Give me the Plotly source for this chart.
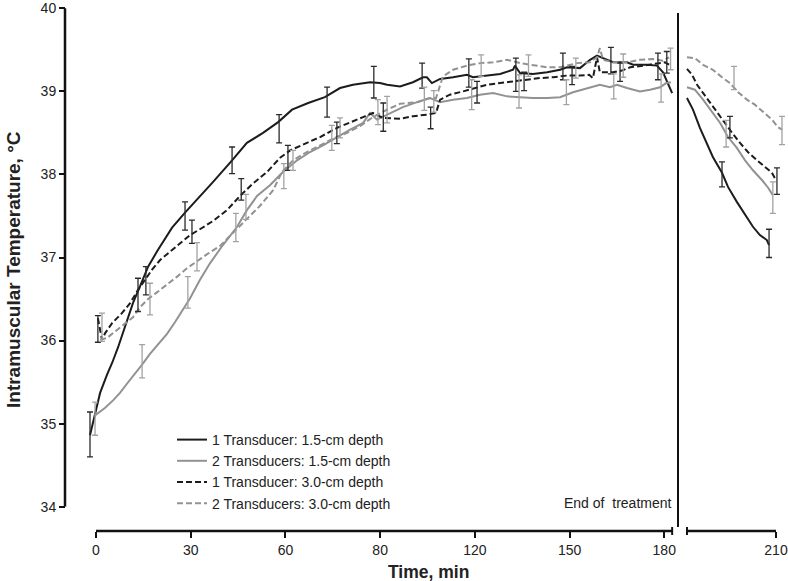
import plotly.graph_objects as go

# ---------------- data (time in min, temperature in °C) ----------------
# Treatment period (left panel)
s1_t = [-1.9, -0.3, 1.3, 3.5, 5.1, 7.0, 9.2, 11.7, 13.9, 16.5, 19.6, 24.1, 28.2, 32.9, 37.1, 43.1, 47.8, 52.9,
        57.7, 62.1, 67.2, 72.5, 77.3, 81.4, 86.8, 90.0, 92.2, 96.3, 100.4, 103.6, 104.8, 106.4, 109.0, 113.1,
        117.5, 119.4, 123.9, 128.0, 132.1, 132.7, 134.3, 138.4, 142.9, 147.0, 149.2, 153.3, 156.5, 158.7,
        160.6, 163.8, 168.2, 170.1, 174.5, 177.7, 179.6, 181.2, 182.5]
s1_T = [34.86, 35.13, 35.37, 35.59, 35.73, 35.92, 36.16, 36.45, 36.65, 36.89, 37.09, 37.36, 37.54, 37.73, 37.91,
        38.17, 38.38, 38.50, 38.63, 38.78, 38.86, 38.93, 39.04, 39.08, 39.11, 39.10, 39.08, 39.06, 39.11, 39.17,
        39.17, 39.10, 39.15, 39.17, 39.20, 39.17, 39.19, 39.21, 39.26, 39.31, 39.22, 39.21, 39.23, 39.26, 39.29,
        39.28, 39.38, 39.43, 39.40, 39.35, 39.35, 39.32, 39.32, 39.31, 39.23, 39.09, 38.98]

s2_t = [-0.3, 2.9, 5.4, 7.6, 9.8, 11.7, 14.6, 17.1, 19.6, 22.5, 25.0, 27.6, 29.8, 32.9, 36.1, 40.2, 44.7, 47.8,
        51.0, 55.1, 59.2, 63.7, 67.8, 71.9, 76.3, 80.5, 84.6, 86.8, 89.0, 93.1, 97.2, 101.7, 105.8, 109.0, 113.1,
        117.5, 121.6, 125.8, 130.2, 134.3, 138.4, 142.9, 147.0, 151.1, 155.5, 159.6, 162.8, 165.0, 168.2, 172.3,
        175.5, 178.7, 180.6, 182.1]
s2_T = [35.10, 35.19, 35.28, 35.37, 35.48, 35.57, 35.71, 35.84, 35.95, 36.08, 36.22, 36.37, 36.51, 36.73, 36.93,
        37.15, 37.37, 37.57, 37.74, 37.87, 38.03, 38.17, 38.27, 38.35, 38.45, 38.54, 38.62, 38.74, 38.66, 38.74,
        38.81, 38.87, 38.92, 38.87, 38.90, 38.92, 38.96, 38.98, 38.94, 38.93, 38.92, 38.92, 38.93, 38.99, 39.04,
        39.08, 39.05, 39.08, 39.04, 39.00, 39.02, 39.05, 39.10, 39.11]

s3_t = [0.6, 1.9, 2.9, 5.1, 8.2, 10.8, 13.3, 15.5, 17.7, 20.3, 23.4, 26.6, 29.8, 32.9, 37.1, 41.5, 45.6, 49.7,
        54.2, 58.3, 61.5, 66.8, 71.0, 76.3, 80.5, 84.6, 87.7, 90.9, 96.3, 100.4, 104.8, 107.7, 109.0, 112.1,
        116.3, 119.4, 123.9, 128.0, 132.1, 136.5, 140.6, 144.8, 149.2, 153.3, 156.2, 157.4, 158.7, 159.6, 163.8,
        166.6, 169.2, 173.3, 177.7, 180.2, 182.1]
s3_T = [36.27, 36.01, 36.09, 36.21, 36.33, 36.45, 36.61, 36.73, 36.85, 36.97, 37.07, 37.17, 37.27, 37.34, 37.44,
        37.57, 37.74, 37.89, 38.03, 38.20, 38.29, 38.38, 38.45, 38.56, 38.63, 38.69, 38.74, 38.68, 38.67, 38.70,
        38.72, 38.74, 38.90, 38.96, 39.00, 39.03, 39.08, 39.10, 39.12, 39.14, 39.16, 39.17, 39.19, 39.19, 39.20,
        39.16, 39.41, 39.23, 39.23, 39.25, 39.29, 39.31, 39.34, 39.35, 39.31]

s4_t = [1.3, 3.5, 5.4, 7.6, 9.8, 11.7, 13.9, 16.5, 19.3, 22.5, 25.7, 28.8, 32.0, 35.2, 39.3, 43.4, 47.8, 51.9,
        56.1, 58.9, 62.4, 66.8, 71.0, 75.1, 79.5, 83.6, 87.7, 92.2, 96.3, 101.7, 105.8, 107.7, 109.9, 113.1,
        117.5, 121.6, 125.8, 130.2, 134.3, 138.4, 142.9, 147.0, 152.4, 156.5, 158.7, 159.6, 160.6, 163.8, 168.2,
        172.3, 176.4, 179.6, 181.5]
s4_T = [36.01, 36.03, 36.09, 36.16, 36.22, 36.28, 36.40, 36.50, 36.58, 36.67, 36.77, 36.87, 36.96, 37.04, 37.14,
        37.30, 37.46, 37.62, 37.81, 38.03, 38.17, 38.27, 38.35, 38.43, 38.50, 38.58, 38.69, 38.78, 38.85, 38.87,
        38.92, 38.92, 39.18, 39.26, 39.31, 39.34, 39.35, 39.38, 39.34, 39.32, 39.29, 39.29, 39.34, 39.35, 39.41,
        39.52, 39.38, 39.35, 39.35, 39.38, 39.39, 39.37, 39.41]

# Error bars (mean ± SD) during treatment
e1_t = [-1.9, 13.3, 28.2, 43.1, 58.0, 73.2, 88.0, 103.3, 118.1, 133.0, 147.9, 163.1, 178.0]
e1_T = [34.87, 36.55, 37.50, 38.17, 38.55, 38.87, 39.11, 39.19, 39.22, 39.20, 39.30, 39.37, 39.30]
e1_e = [0.27, 0.20, 0.17, 0.16, 0.17, 0.18, 0.19, 0.15, 0.17, 0.20, 0.16, 0.16, 0.16]
e2_t = [-0.3, 14.6, 29.1, 44.3, 59.5, 74.7, 89.3, 104.0, 119.0, 134.0, 149.0, 164.0, 179.0]
e2_T = [35.06, 35.75, 36.58, 37.36, 37.98, 38.44, 38.75, 38.91, 38.96, 39.00, 38.99, 39.06, 39.04]
e2_e = [0.20, 0.20, 0.19, 0.17, 0.15, 0.15, 0.15, 0.14, 0.18, 0.20, 0.15, 0.15, 0.17]
e3_t = [0.6, 15.8, 30.4, 46.0, 60.8, 76.3, 91.0, 106.0, 120.7, 135.6, 150.8, 166.0, 180.8]
e3_T = [36.14, 36.72, 37.31, 37.82, 38.20, 38.50, 38.69, 38.68, 38.99, 39.12, 39.19, 39.23, 39.35]
e3_e = [0.16, 0.17, 0.14, 0.13, 0.15, 0.13, 0.17, 0.13, 0.13, 0.11, 0.11, 0.11, 0.13]
e4_t = [1.9, 17.1, 32.0, 47.5, 62.4, 77.3, 92.2, 107.0, 122.0, 137.0, 152.0, 167.0, 182.0]
e4_T = [36.16, 36.50, 37.01, 37.61, 38.17, 38.56, 38.78, 38.88, 39.31, 39.31, 39.28, 39.31, 39.39]
e4_e = [0.17, 0.19, 0.17, 0.15, 0.12, 0.12, 0.16, 0.13, 0.13, 0.13, 0.12, 0.14, 0.13]

# After treatment (right panel)
r1_t = [181.8, 183.7, 185.9, 188.1, 190.0, 192.9, 194.8, 197.6, 200.2, 202.7, 204.9, 207.1, 207.8]
r1_T = [38.92, 38.78, 38.56, 38.38, 38.21, 38.02, 37.85, 37.67, 37.51, 37.37, 37.27, 37.21, 37.15]
r2_t = [181.8, 184.3, 186.9, 189.7, 192.3, 194.8, 197.6, 200.2, 202.7, 205.6, 207.5, 209.0]
r2_T = [39.05, 39.02, 38.90, 38.75, 38.62, 38.45, 38.32, 38.17, 38.05, 37.93, 37.84, 37.75]
r3_t = [181.8, 183.4, 185.0, 186.9, 189.1, 191.3, 193.8, 196.1, 198.6, 201.1, 204.0, 206.5, 208.7, 210.0]
r3_T = [39.27, 39.20, 39.08, 38.98, 38.86, 38.74, 38.62, 38.50, 38.38, 38.27, 38.17, 38.09, 38.02, 37.93]
r4_t = [181.8, 184.3, 186.9, 190.0, 192.9, 195.4, 198.0, 200.8, 203.3, 205.9, 208.7, 210.6, 211.9]
r4_T = [39.41, 39.40, 39.32, 39.26, 39.17, 39.10, 38.99, 38.90, 38.84, 38.75, 38.66, 38.57, 38.54]

re1_t, re1_T, re1_e = [192.9, 207.8], [38.00, 37.17], [0.15, 0.17]
re2_t, re2_T, re2_e = [194.2, 209.0], [38.49, 37.72], [0.16, 0.19]
re3_t, re3_T, re3_e = [195.4, 210.3], [38.57, 37.92], [0.13, 0.16]
re4_t, re4_T, re4_e = [196.7, 211.9], [39.16, 38.53], [0.14, 0.17]

series_names = ["1 Transducer: 1.5-cm depth", "2 Transducers: 1.5-cm depth",
                "1 Transducer: 3.0-cm depth", "2 Transducers: 3.0-cm depth"]

x_tick_vals = [0, 30, 60, 90, 120, 150, 180]
x_tick_text = ["0", "30", "60", "80", "120", "150", "180"]
x2_tick_vals = [210]
x2_tick_text = ["210"]
y_tick_vals = [34, 35, 36, 37, 38, 39, 40]

left_axis_end = 182.5
right_axis_start = 181.8

# ---------------- styling ----------------
FONT = "Liberation Sans, Arial, Helvetica, sans-serif"
BLACK = "#1c1c1c"
GREY = "#929292"
BLACK_EB = "#2a2a2a"
GREY_EB = "#a2a2a2"
DASH = "6px,3px"

W, H = 788, 581
ML, MR, MT, MB = 65, 0, 4, 50
PW, PH = W - ML - MR, H - MT - MB
PX_PER_DEG = 83.07
Y_TOP_PX = 8.3           # pixel row of 40 °C
Y_BOT_PX = 506.7         # pixel row of 34 °C
split = (680 - ML) / PW


def px_x(px):
    return (px - ML) / PW


def px_y(py):
    return (MT + PH - py) / PH


y_range_top = 40 + (Y_TOP_PX - MT) / PX_PER_DEG

styles = [
    dict(color=BLACK, dash="solid", eb=BLACK_EB),
    dict(color=GREY, dash="solid", eb=GREY_EB),
    dict(color=BLACK, dash=DASH, eb=BLACK_EB),
    dict(color=GREY, dash=DASH, eb=GREY_EB),
]

lines_left = [(s1_t, s1_T), (s2_t, s2_T), (s3_t, s3_T), (s4_t, s4_T)]
lines_right = [(r1_t, r1_T), (r2_t, r2_T), (r3_t, r3_T), (r4_t, r4_T)]
bars_left = [(e1_t, e1_T, e1_e), (e2_t, e2_T, e2_e), (e3_t, e3_T, e3_e), (e4_t, e4_T, e4_e)]
bars_right = [(re1_t, re1_T, re1_e), (re2_t, re2_T, re2_e), (re3_t, re3_T, re3_e), (re4_t, re4_T, re4_e)]

fig = go.Figure()

for i, name in enumerate(series_names):
    st = styles[i]
    line = dict(color=st["color"], width=2, dash=st["dash"])
    fig.add_trace(go.Scatter(x=lines_left[i][0], y=lines_left[i][1], mode="lines", name=name,
                             legendgroup=name, line=line, xaxis="x", yaxis="y"))
    fig.add_trace(go.Scatter(x=lines_right[i][0], y=lines_right[i][1], mode="lines", name=name,
                             legendgroup=name, showlegend=False, line=line, xaxis="x2", yaxis="y"))

for i, name in enumerate(series_names):
    st = styles[i]
    for (bt, bT, be), xa in ((bars_left[i], "x"), (bars_right[i], "x2")):
        fig.add_trace(go.Scatter(
            x=bt, y=bT, mode="markers", name=name, legendgroup=name, showlegend=False,
            marker=dict(size=2, opacity=0), xaxis=xa, yaxis="y", hoverinfo="skip",
            error_y=dict(type="data", array=be, visible=True, color=st["eb"], thickness=1.3, width=3)))

axis_common = dict(showgrid=False, zeroline=False, ticks="outside", ticklen=6, tickwidth=2,
                   tickcolor="#111", tickfont=dict(family=FONT, size=14, color="#222"))

shapes = [
    # y-axis line from 34 to 40
    dict(type="line", xref="paper", yref="y", x0=0, x1=0, y0=34, y1=40,
         line=dict(color="#111", width=2.5)),
    # left x-axis line with break mark
    dict(type="line", xref="x", yref="paper", x0=0, x1=left_axis_end, y0=0, y1=0,
         line=dict(color="#111", width=2.5)),
    dict(type="line", xref="x", yref="paper", ysizemode="pixel", yanchor=0,
         x0=left_axis_end, x1=left_axis_end, y0=-4, y1=4, line=dict(color="#111", width=2)),
    # right x-axis line with break mark
    dict(type="line", xref="x2", yref="paper", x0=right_axis_start, x1=210, y0=0, y1=0,
         line=dict(color="#111", width=2.5)),
    dict(type="line", xref="x2", yref="paper", ysizemode="pixel", yanchor=0,
         x0=right_axis_start, x1=right_axis_start, y0=-4, y1=4, line=dict(color="#111", width=2)),
    # end-of-treatment vertical line
    dict(type="line", xref="paper", yref="paper", x0=px_x(678), x1=px_x(678),
         y0=px_y(527), y1=px_y(13), line=dict(color="#111", width=2)),
]

annotations = [
    dict(text="End of\u00a0 treatment", xref="paper", yref="paper", x=px_x(674),
         y=px_y(503), xanchor="right", yanchor="middle", showarrow=False,
         font=dict(family=FONT, size=14, color="#222")),
    dict(text="<b>Time, min</b>", xref="paper", yref="paper", x=px_x(428),
         y=px_y(572), xanchor="center", yanchor="middle", showarrow=False,
         font=dict(family=FONT, size=17.5, color="#222")),
    dict(text="<b>Intramuscular Temperature, °C</b>", xref="paper", yref="paper", x=px_x(13),
         y=px_y(270), xanchor="center", yanchor="middle", showarrow=False, textangle=-90,
         font=dict(family=FONT, size=19, color="#222")),
]

fig.update_layout(
    width=W, height=H,
    margin=dict(l=ML, r=MR, t=MT, b=MB, pad=0),
    paper_bgcolor="white", plot_bgcolor="white",
    font=dict(family=FONT, color="#222"),
    showlegend=True,
    legend=dict(x=px_x(172), y=px_y(424), xanchor="left", yanchor="top",
                bgcolor="rgba(0,0,0,0)", borderwidth=0, tracegroupgap=0,
                font=dict(family=FONT, size=14, color="#222")),
    xaxis=dict(domain=[0, split], range=[(ML - 96) / 3.157, (680 - 96) / 3.157], anchor="free", position=0,
               showline=False, tickmode="array", tickvals=x_tick_vals, ticktext=x_tick_text, **axis_common),
    xaxis2=dict(domain=[split, 1], range=[210 - (776 - 680) / 3.157, 210 + (W - 776) / 3.157], anchor="free",
                position=0, showline=False, tickmode="array", tickvals=x2_tick_vals, ticktext=x2_tick_text,
                **axis_common),
    yaxis=dict(domain=[px_y(Y_BOT_PX), 1], range=[34, y_range_top], anchor="free", position=0,
               showline=False, tickmode="array", tickvals=y_tick_vals, **axis_common),
    shapes=shapes,
    annotations=annotations,
)

# remove the default page margin so the figure fills the window exactly
fig.write_html("out.html", config={"displayModeBar": False},
               post_script="document.body.style.margin='0';document.body.style.overflow='hidden';")
